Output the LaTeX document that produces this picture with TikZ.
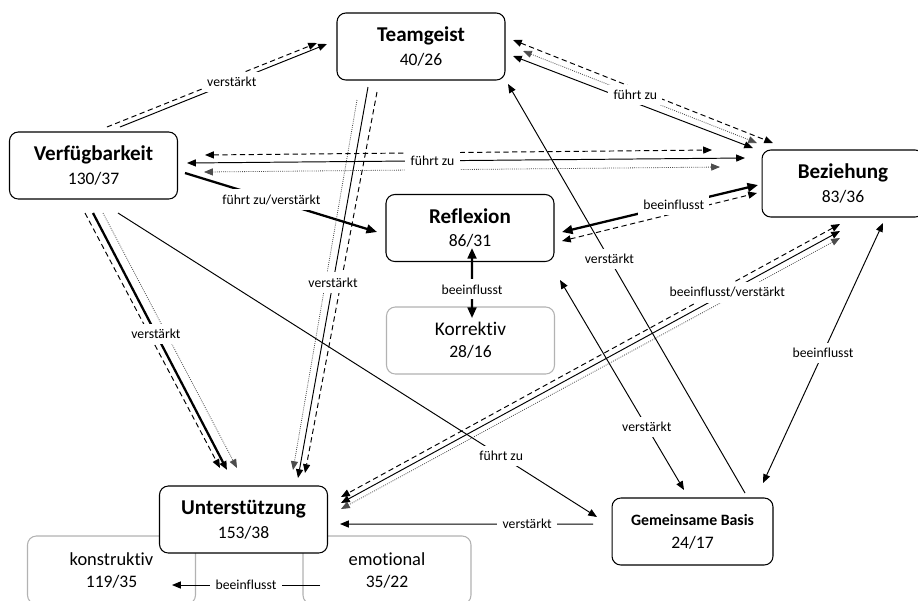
\documentclass[tikz,border=0pt]{standalone}
\usepackage{fontspec}
\setmainfont{Carlito}[Ligatures={NoCommon,NoContextual}]
\usetikzlibrary{arrows.meta}

\newcommand{\boxtext}[2]{{\fontsize{12}{14}\selectfont\bfseries #1}\\[1.5pt]{\fontsize{10}{12}\selectfont #2}}
\newcommand{\subtext}[2]{{\fontsize{10.5}{12}\selectfont #1}\\[0.5pt]{\fontsize{10}{12}\selectfont #2}}

\begin{document}
\begin{tikzpicture}[x=0.02cm,y=-0.02cm,
    box/.style={draw,rounded corners=5pt,line width=0.6pt,fill=white,minimum width=3.36cm,minimum height=1.34cm,align=center,inner sep=1pt},
    subbox/.style={box,draw=black!30,minimum height=1.36cm},
    lbl/.style={fill=white,text=black,font=\fontsize{7.8}{9}\selectfont,inner sep=3pt},
    tip/.style={-{Triangle[length=5pt,width=4pt]}},
    tips/.style={{Triangle[length=5pt,width=4pt]}-{Triangle[length=5pt,width=4pt]}},
    bigtip/.style={-{Triangle[length=6pt,width=5pt]}},
    bigtips/.style={{Triangle[length=6pt,width=5pt]}-{Triangle[length=6pt,width=5pt]}},
    solidln/.style={line width=0.55pt},
    thickln/.style={line width=1.3pt},
    dashln/.style={line width=0.55pt,dash pattern=on 3pt off 2pt},
    dotln/.style={line width=0.45pt,black!70,dash pattern=on 0.5pt off 0.7pt}
]

\useasboundingbox (0,0) rectangle (918,600);

\node[subbox] (konst) at (111.5,570) {\subtext{konstruktiv}{119/35}};
\node[subbox] (emo) at (387,570) {\subtext{emotional}{35/22}};
\node[box] (unt) at (243.5,519.5) {\boxtext{Unterstützung}{153/38}};
\node[box] (team) at (421,46.5) {\boxtext{Teamgeist}{40/26}};
\node[box] (verf) at (93.5,165.5) {\boxtext{Verfügbarkeit}{130/37}};
\node[box,minimum width=3.24cm] (bez) at (843,183.5) {\boxtext{Beziehung}{83/36}};
\node[box] (refl) at (470,228) {\boxtext{Reflexion}{86/31}};
\node[subbox,minimum height=1.34cm] (korr) at (470.5,340.5) {{\fontsize{11}{13}\selectfont Korrektiv}\\[0.5pt]{\fontsize{10}{12}\selectfont 28/16}};
\node[box,minimum width=3.22cm] (gem) at (692.5,531.5) {{\fontsize{9}{11}\selectfont\bfseries Gemeinsame Basis}\\[1pt]{\fontsize{10}{12}\selectfont 24/17}};

% Verfuegbarkeit -> Teamgeist
\draw[dashln,tip] ([shift={(13.5,-38.5)}]verf.center) -- ([shift={(-104,-3.5)}]team.center);
\draw[solidln,tip] ([shift={(26.5,-38.5)}]verf.center) -- node[lbl,pos=.54]{verstärkt} ([shift={(-94,-2.5)}]team.center);

% Teamgeist <-> Beziehung
\draw[dashln,tips] ([shift={(92,-6.5)}]team.center) -- ([shift={(-70,-40.5)}]bez.center);
\draw[solidln,tips] ([shift={(92,9.5)}]team.center) -- ([shift={(-90,-35.5)}]bez.center);
\draw[dotln,tips] ([shift={(102,4.5)}]team.center) -- node[lbl,pos=.48]{führt zu} ([shift={(-86,-40.5)}]bez.center);

% Verfuegbarkeit <-> Beziehung
\draw[dashln,tips] ([shift={(111.5,-10.5)}]verf.center) -- ([shift={(-131,-33.5)}]bez.center);
\draw[dotln,tips] ([shift={(110.5,6.5)}]verf.center) -- ([shift={(-123,-16.5)}]bez.center);
\draw[solidln,tips] ([shift={(93.5,-2.5)}]verf.center) -- node[lbl,pos=.44]{führt zu} ([shift={(-98,-25.5)}]bez.center);

% Verfuegbarkeit -> Reflexion
\draw[thickln,bigtip] ([shift={(91.5,7.5)}]verf.center) -- node[lbl,pos=.45]{führt zu/verstärkt} ([shift={(-93,4)}]refl.center);

% Beziehung <-> Reflexion
\draw[dashln,tips] ([shift={(92,13)}]refl.center) -- ([shift={(-86,9.5)}]bez.center);
\draw[thickln,bigtips] ([shift={(92,4)}]refl.center) -- node[lbl,pos=.57]{beeinflusst} ([shift={(-85,1.5)}]bez.center);

% Reflexion <-> Korrektiv
\draw[thickln,bigtips] ([shift={(2,20)}]refl.center) -- node[lbl,pos=.59]{beeinflusst} ([shift={(1.5,-22.5)}]korr.center);

% Teamgeist -> Unterstuetzung
\draw[dotln,tip] ([shift={(-64,53.5)}]team.center) -- ([shift={(49.5,-49.5)}]unt.center);
\draw[dashln,tip] ([shift={(-44,45.5)}]team.center) -- ([shift={(61.5,-46.5)}]unt.center);
\draw[solidln,tip] ([shift={(-53,40.5)}]team.center) -- node[lbl,pos=.5]{verstärkt} ([shift={(54.5,-41.5)}]unt.center);

% Verfuegbarkeit -> Unterstuetzung
\draw[dashln,tip] ([shift={(-8.5,47.5)}]verf.center) -- ([shift={(-23.5,-51.5)}]unt.center);
\draw[dotln,tip] ([shift={(9.5,47.5)}]verf.center) -- ([shift={(-6.5,-51.5)}]unt.center);
\draw[thickln,tip] ([shift={(-0.5,47.5)}]verf.center) -- node[lbl,pos=.47]{verstärkt} ([shift={(-16.5,-49.5)}]unt.center);

% Verfuegbarkeit -> Gemeinsame Basis
\draw[solidln,tip] ([shift={(24.5,47.5)}]verf.center) -- node[lbl,pos=.8]{führt zu} ([shift={(-95.5,-14.5)}]gem.center);

% Beziehung <-> Unterstuetzung
\draw[dashln,tips] ([shift={(-3,40.5)}]bez.center) -- ([shift={(97.5,-22.5)}]unt.center);
\draw[dotln,tips] ([shift={(-3,54.5)}]bez.center) -- ([shift={(97.5,-10.5)}]unt.center);
\draw[solidln,tips] ([shift={(-3,47.5)}]bez.center) -- node[lbl,pos=.226]{beeinflusst/verstärkt} ([shift={(97.5,-16.5)}]unt.center);

% Gemeinsame Basis -> Unterstuetzung
\draw[solidln,tip] ([shift={(-99.5,-7.5)}]gem.center) -- node[lbl,pos=.26]{verstärkt} ([shift={(96.5,4.5)}]unt.center);

% Reflexion <-> Gemeinsame Basis
\draw[solidln,tips] ([shift={(90,52)}]refl.center) -- node[lbl,pos=.7]{verstärkt} ([shift={(-8.5,-41.5)}]gem.center);

% Gemeinsame Basis -> Teamgeist
\draw[solidln,tip] ([shift={(52.5,-38.5)}]gem.center) -- node[lbl,pos=.572]{verstärkt} ([shift={(87,37.5)}]team.center);

% Beziehung <-> Gemeinsame Basis
\draw[solidln,tips] ([shift={(40,39.5)}]bez.center) -- node[lbl,pos=.5]{beeinflusst} ([shift={(70.5,-48.5)}]gem.center);

% emotional -> konstruktiv
\draw[solidln,tip] ([shift={(-67,15)}]emo.center) -- node[lbl,pos=.5]{beeinflusst} ([shift={(60.5,15)}]konst.center);

\end{tikzpicture}
\end{document}
